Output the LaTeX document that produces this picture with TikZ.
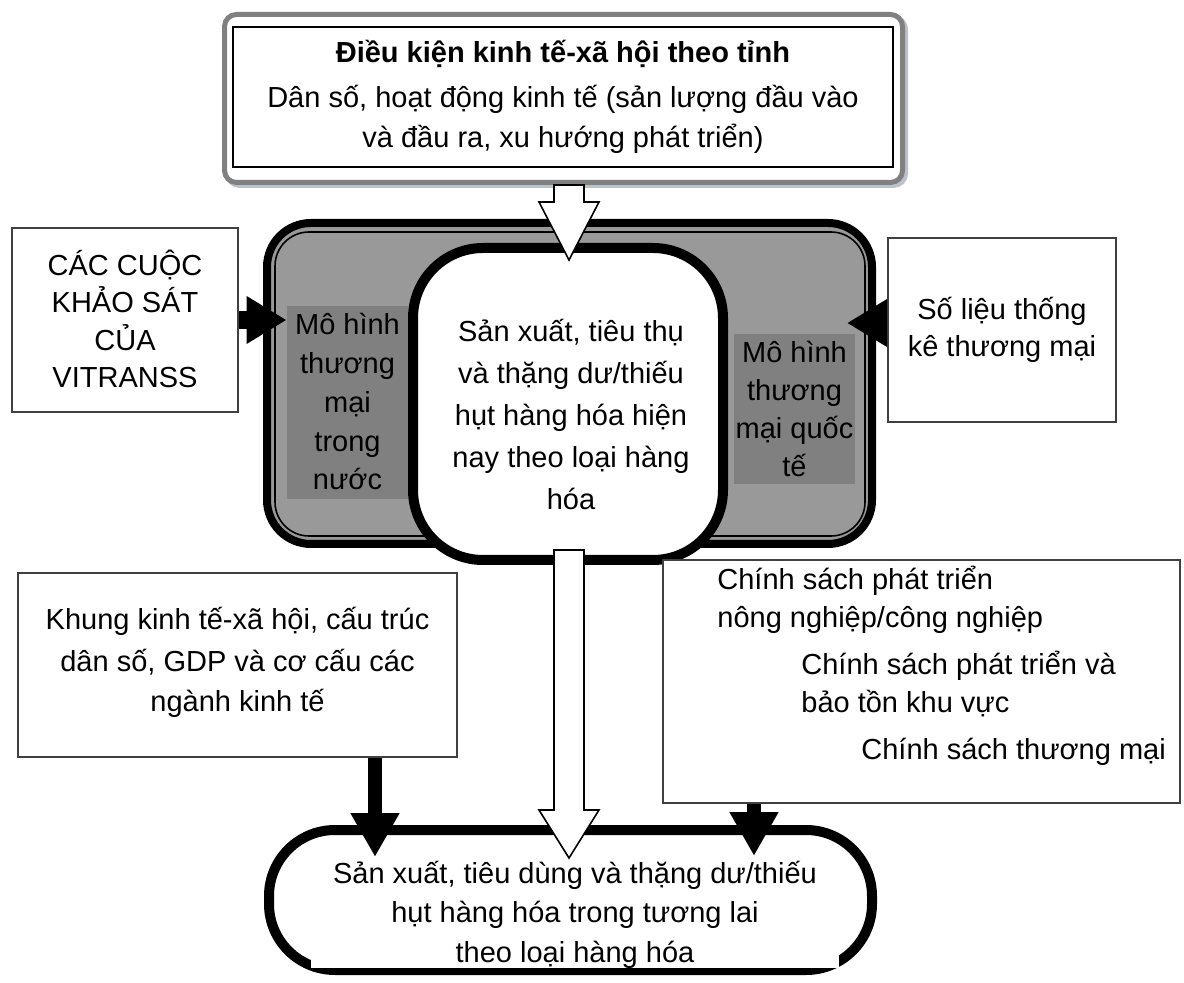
\documentclass[tikz,border=0pt]{standalone}
\usepackage{fontspec}
\setmainfont{Liberation Sans}
\usetikzlibrary{arrows.meta,positioning,calc}
\definecolor{vtModel}{RGB}{153,153,153}
\definecolor{vtSub}{RGB}{128,128,128}
\definecolor{vtFrame}{RGB}{128,128,128}
\definecolor{vtShadow}{RGB}{188,194,204}
\definecolor{vtLine}{RGB}{64,64,64}
\tikzset{
    vtBox/.style={rectangle, draw=vtLine, line width=1pt, fill=white, inner sep=0pt},
    vtRound/.style={rectangle, draw=black, line width=5pt, fill=white, inner sep=0pt},
    vtSubBox/.style={rectangle, fill=vtSub, inner sep=0pt},
    vtText/.style={anchor=base, align=center, inner sep=0pt, font=\fontsize{14.5}{#1}\selectfont},
    vtText/.default=20pt,
    vtLeft/.style={vtText=#1, anchor=base west, align=left},
    vtLeft/.default=19pt,
    % Arrows
    vtFeedH/.style={line width=9pt, -{Triangle[length=20pt, width=22.5pt]}},
    vtFeedV/.style={line width=7pt, -{Triangle[length=22pt, width=23pt]}},
    vtHollow/.style={draw=black, line width=0.8pt, fill=white, line join=miter}
}
% hollow block arrow: start, tip, head length
\newcommand{\vtHollowArrow}[3]{%
    \draw[vtHollow] ($(#1)+(-15,0)$) -- ($(#2)+(-15,-#3)$) -- ($(#2)+(-30,-#3)$)
        -- (#2) -- ($(#2)+(30,-#3)$) -- ($(#2)+(15,-#3)$) -- ($(#1)+(15,0)$) -- cycle;}

\begin{document}
\begin{tikzpicture}[x=0.5pt, y=-0.5pt]
\useasboundingbox (0,0) rectangle (1184,983);

% socio-economic conditions (text nodes sit on the baseline of their last line)
\draw[vtShadow, line width=2.5pt, rounded corners=6pt] (227.5,17.5) rectangle (905.5,185.5);
\node[draw=vtFrame, line width=2.5pt, fill=white, rounded corners=6pt, minimum width=339pt, minimum height=84pt, inner sep=0pt] (topframe) at (563.5,98.5) {};
\node[vtBox, draw=black, minimum width=330pt, minimum height=70pt] (top) at (563,97) {};
\node[vtText] (toptext) at (563,148) {\textbf{Điều kiện kinh tế-xã hội theo tỉnh}\\[2.5pt]Dân số, hoạt động kinh tế (sản lượng đầu vào\\và đầu ra, xu hướng phát triển)};

% trade models
\node[draw=black, line width=4pt, fill=vtModel, rounded corners=22pt, minimum width=302.5pt, minimum height=160.5pt, inner sep=0pt] (model) at (569.5,383.5) {};
\node[draw=black, line width=0.8pt, rounded corners=17pt, minimum width=295pt, minimum height=152pt, inner sep=0pt] (modelinner) at (570,384) {};
\node[vtSubBox, minimum width=60.5pt, minimum height=96.5pt] (domestic) at (347.5,402.5) {};
\node[vtText=19.4pt] (domtext) at (347.5,490) {Mô hình\\thương\\mại\\trong\\nước};
\node[vtSubBox, minimum width=60.5pt, minimum height=75pt] (intl) at (794.5,409) {};
\node[vtText=19pt] (intltext) at (794.5,477) {Mô hình\\thương\\mại quốc\\tế};
\node[vtRound, rounded corners=35pt, minimum width=155pt, minimum height=156pt] (current) at (568,404) {};
\node[vtText=21pt] (currenttext) at (571,510) {Sản xuất, tiêu thụ\\và thặng dư/thiếu\\hụt hàng hóa hiện\\nay theo loại hàng\\hóa};

% side inputs
\node[vtBox, minimum width=113pt, minimum height=92pt] (survey) at (125,320) {};
\node[vtText=18.8pt] (surveytext) at (125,388) {CÁC CUỘC\\KHẢO SÁT\\CỦA\\VITRANSS};
\node[vtBox, minimum width=114pt, minimum height=92pt] (stats) at (1002,330) {};
\node[vtText=18.5pt] (statstext) at (1002,357) {Số liệu thống\\kê thương mại};

% future
\node[vtRound, rounded corners=33pt, minimum width=301.5pt, minimum height=70pt] (future) at (570.5,900) {};
\fill[white] (311,940) rectangle (839,968);
\node[vtText=19.75pt] (futuretext) at (575,962) {Sản xuất, tiêu dùng và thặng dư/thiếu\\hụt hàng hóa trong tương lai\\theo loại hàng hóa};

% lower inputs
\node[vtBox, minimum width=219.5pt, minimum height=92pt] (framework) at (237.5,665) {};
\node[vtText=20.5pt] (frametext) at (237.5,712) {Khung kinh tế-xã hội, cấu trúc\\dân số, GDP và cơ cấu các\\ngành kinh tế};
\node[vtBox, minimum width=258.5pt, minimum height=121.5pt] (policy) at (921.5,681.5) {};
\node[vtLeft] (policyA) at (717,628) {Chính sách phát triển\\nông nghiệp/công nghiệp};
\node[vtLeft] (policyB) at (801,713) {Chính sách phát triển và\\bảo tồn khu vực};
\node[vtLeft] (policyC) at (861,760) {Chính sách thương mại};

% flows
\coordinate (currenttip) at (569,260);
\coordinate (topout) at (topframe.south -| currenttip);
\coordinate (futuretip) at (569,858);
\coordinate (currentout) at ($(current.south -| futuretip)+(0,-15)$);
\coordinate (intltip) at (847,323);
\coordinate (futureleft) at (375,857);
\coordinate (futureright) at (754,856);
\vtHollowArrow{topout}{currenttip}{58}
\vtHollowArrow{currentout}{futuretip}{48}
\draw[vtFeedH] (survey.east) -- (survey.east -| domestic.west);
\draw[vtFeedH] (stats.west |- intltip) -- (intltip);
\draw[vtFeedV] (framework.south -| futureleft) -- (futureleft);
\draw[vtFeedV] (policy.south -| futureright) -- (futureright);
\end{tikzpicture}
\end{document}
